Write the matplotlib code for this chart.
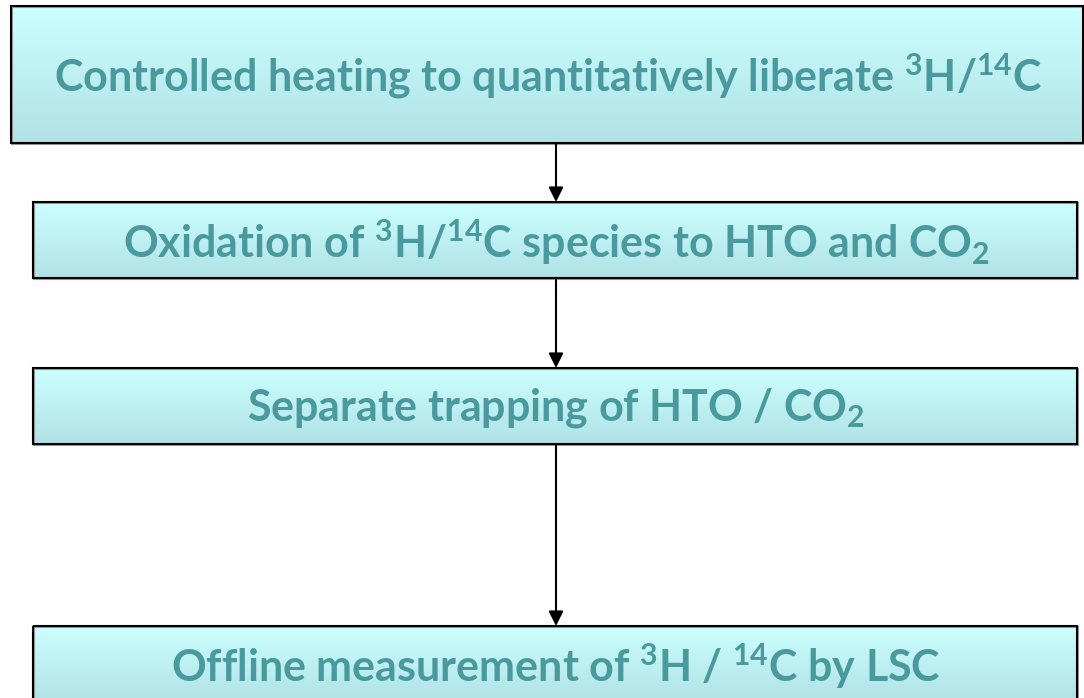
import numpy as np
import matplotlib
matplotlib.use("Agg")
import matplotlib.pyplot as plt
from matplotlib.patches import Rectangle

# pasos del diagrama de flujo
steps = [
    r"Controlled heating to quantitatively liberate $^{3}$H/$^{14}$C",
    r"Oxidation of $^{3}$H/$^{14}$C species to HTO and CO$_{2}$",
    r"Separate trapping of HTO / CO$_{2}$",
    r"Offline measurement of $^{3}$H / $^{14}$C by LSC",
]
# cajas en pixeles (x0, y0, x1, y1), y hacia abajo
boxes = [(11, 6, 1083, 143), (33, 202, 1077, 278), (33, 368, 1077, 444), (33, 626, 1077, 702)]
arrow_x = 556

plt.rcParams['font.family'] = ['Lato', 'DejaVu Sans']
plt.rcParams['mathtext.fontset'] = 'custom'
plt.rcParams['mathtext.rm'] = 'Lato:bold'
plt.rcParams['mathtext.it'] = 'Lato:bold'
plt.rcParams['mathtext.bf'] = 'Lato:bold'

fig = plt.figure(figsize=(10.84, 6.98), dpi=100)
ax = fig.add_axes([0, 0, 1, 1])
ax.set_xlim(0, 1084)
ax.set_ylim(698, 0)
ax.axis('off')

top = np.array([0xcc, 0xff, 0xff]) / 255
bot = np.array([0xb0, 0xe2, 0xe6]) / 255
t = np.linspace(0, 1, 100)[:, None]
grad = (top * (1 - t) + bot * t)[:, None, :]

for (x0, y0, x1, y1), label in zip(boxes, steps):
    ax.imshow(grad, extent=(x0, x1, y1, y0), aspect='auto', zorder=1)
    ax.add_patch(Rectangle((x0 + 1, y0 + 1), x1 - x0, y1 - y0, fill=False,
                           edgecolor='#999999', lw=1.5, zorder=2))
    ax.add_patch(Rectangle((x0, y0), x1 - x0, y1 - y0, fill=False,
                           edgecolor='black', lw=1.5, zorder=3))
    ax.text((x0 + x1) / 2 + 1, (y0 + y1) / 2 + 2, label, ha='center', va='center',
            fontsize=31, fontweight='bold', color='#4a999e', zorder=4)

for a, b in zip(boxes[:-1], boxes[1:]):
    ax.annotate('', xy=(arrow_x, b[1]), xytext=(arrow_x, a[3]),
                arrowprops=dict(arrowstyle='-|>', color='black', lw=1.5,
                                mutation_scale=22, shrinkA=0, shrinkB=0), zorder=5)

ax.set_xlim(0, 1084)
ax.set_ylim(698, 0)
plt.savefig('out.png', dpi=100)
